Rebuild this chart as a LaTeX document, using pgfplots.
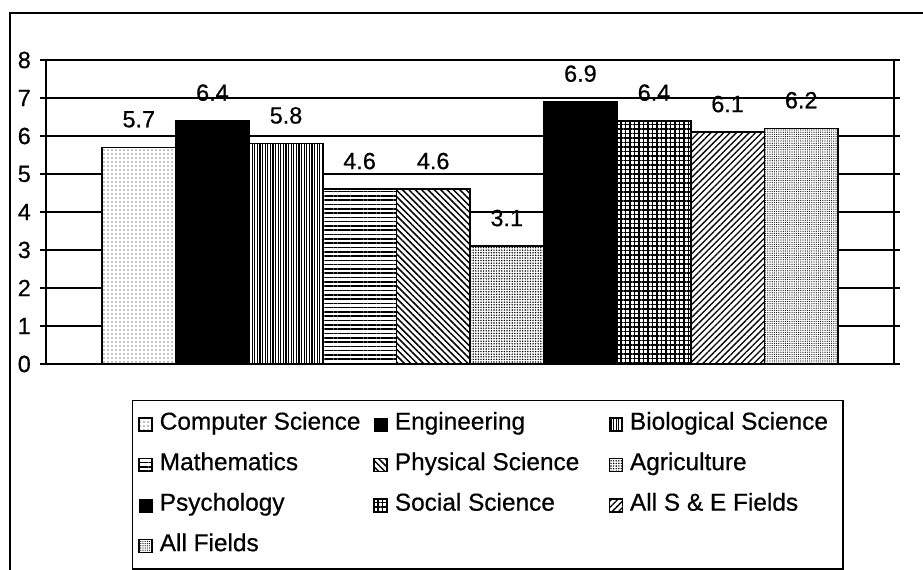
\documentclass[border=0pt]{standalone}
\usepackage{pgfplots}
\pgfplotsset{compat=1.18}
\usepackage{fontspec}
\setmainfont{Liberation Sans}[BoldFont=Liberation Sans, BoldFeatures={FakeBold=0.6}]
\usetikzlibrary{patterns.meta}

\begin{document}
\begin{tikzpicture}[x=1bp,y=1bp]
\clip (0,0) rectangle (923,570);
\draw[line width=1.6bp] (10,557) rectangle (960,-20);
\begin{axis}[
  at={(46bp,206bp)}, anchor=south west,
  scale only axis, width=848bp, height=304bp,
  xmin=-1.261, xmax=10.261, ymin=0, ymax=8,
  xtick=\empty, ytick={0,...,8},
  ymajorgrids, major grid style={black, line width=1.3bp},
  axis line style={black, line width=1.6bp},
  tick align=outside, major tick length=6bp,
  ytick style={black, line width=1.3bp},
  yticklabel style={font=\fontsize{23.5}{27}\selectfont\bfseries, inner sep=0pt, xshift=-9bp},
  /pgf/number format/assume math mode=true,
  ybar, bar width=73.6bp, bar shift=0pt,
  every axis plot/.append style={draw=black, line width=1.7bp},
  nodes near coords,
  every node near coord/.append style={font=\fontsize{23.5}{27}\selectfont\bfseries, anchor=south, inner sep=0pt, yshift=19bp, black},
  legend columns=3, legend cell align=left,
  legend image code/.code={\draw[#1, line width=1.1bp] (3bp,-7bp) rectangle (16bp,6bp);},
  legend style={at={(0.10142,-0.11842)}, anchor=north west, draw=black, line width=1.3bp,
    font=\fontsize{24.5}{28}\selectfont\bfseries, inner xsep=6bp, inner ysep=12bp,
    row sep=17.5bp, column sep=7bp,
    nodes={inner sep=0pt, text height=17bp, text depth=6bp}},
]
\addplot[preaction={fill=white}, pattern={Dots[distance=4bp, radius=0.55bp]}] coordinates {(0,5.7)};
\addlegendentry{\makebox[207bp][l]{Computer Science}}
\addplot[fill=black] coordinates {(1,6.4)};
\addlegendentry{\makebox[207bp][l]{Engineering}}
\addplot[preaction={fill=white}, pattern={Lines[angle=90, distance=2.6bp, line width=1.1bp]}] coordinates {(2,5.8)};
\addlegendentry{\makebox[207bp][l]{Biological Science}}
\addplot[preaction={fill=white}, pattern={Lines[angle=0, distance=4.3bp, line width=1.6bp]}] coordinates {(3,4.6)};
\addlegendentry{\makebox[207bp][l]{Mathematics}}
\addplot[preaction={fill=white}, pattern={Lines[angle=-45, distance=4.5bp, line width=1.5bp]}] coordinates {(4,4.6)};
\addlegendentry{\makebox[207bp][l]{Physical Science}}
\addplot[preaction={fill=white}, pattern={Dots[distance=2.6bp, radius=0.8bp]}] coordinates {(5,3.1)};
\addlegendentry{\makebox[207bp][l]{Agriculture}}
\addplot[fill=black] coordinates {(6,6.9)};
\addlegendentry{\makebox[207bp][l]{Psychology}}
\addplot[preaction={fill=white}, pattern={Hatch[angle=0, distance=4.5bp, line width=1.3bp]}] coordinates {(7,6.4)};
\addlegendentry{\makebox[207bp][l]{Social Science}}
\addplot[preaction={fill=white}, pattern={Lines[angle=45, distance=4.5bp, line width=1.3bp]}] coordinates {(8,6.1)};
\addlegendentry{\makebox[207bp][l]{All S \& E Fields}}
\addplot[preaction={fill=white}, pattern={Dots[distance=2.2bp, radius=0.6bp]}] coordinates {(9,6.2)};
\addlegendentry{\makebox[207bp][l]{All Fields}}
\end{axis}
\end{tikzpicture}
\end{document}
